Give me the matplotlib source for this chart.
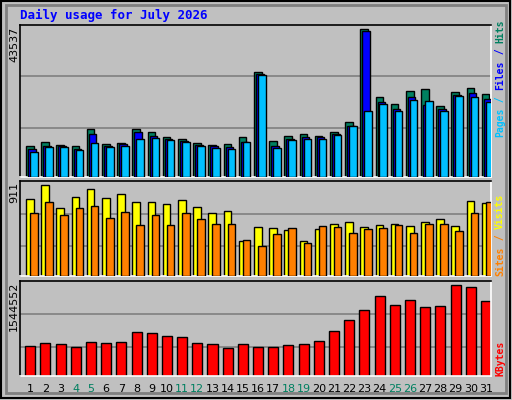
import matplotlib
matplotlib.use("Agg")
import matplotlib.pyplot as plt
import numpy as np
from matplotlib.patches import Rectangle

days = list(range(1, 32))
weekend = [4, 5, 11, 12, 18, 19, 25, 26]
hits = [9062, 10244, 9358, 9062, 14086, 9653, 9949, 14086, 13199, 11722, 11131, 9949, 9358, 9653, 11722, 30930, 10540, 12017, 12608, 12017, 13199, 16154, 43537, 23542, 21473, 25315, 25906, 20882, 25019, 26202, 24428]
files = [8176, 9062, 9062, 8176, 12608, 9062, 9653, 13199, 12017, 11131, 10540, 9358, 9062, 8767, 10244, 30339, 9062, 11131, 11722, 11722, 12608, 14972, 43045, 22064, 19996, 23542, 21178, 19996, 24133, 24724, 22951]
pages = [7289, 8767, 8767, 7880, 9949, 8767, 9062, 11131, 11426, 10835, 10244, 9062, 8471, 8176, 10244, 30043, 8471, 10835, 11131, 11131, 12313, 14972, 19405, 21473, 19405, 22656, 22360, 19405, 23837, 23542, 22064]
visits = [764, 911, 675, 784, 864, 774, 814, 735, 735, 715, 755, 685, 626, 646, 354, 484, 474, 454, 354, 464, 523, 543, 484, 504, 523, 494, 543, 573, 494, 745, 725]
sites = [626, 735, 606, 675, 695, 583, 642, 504, 606, 504, 626, 573, 523, 523, 364, 298, 414, 474, 334, 494, 484, 424, 464, 474, 504, 424, 514, 523, 444, 626, 735]
kbytes = [509171, 560093, 543119, 492197, 577067, 560093, 577067, 746806, 729832, 678910, 661936, 560093, 543119, 475223, 543119, 492197, 492197, 526145, 543119, 594041, 763780, 950494, 1120233, 1357868, 1205103, 1289972, 1171155, 1188129, 1544552, 1510604, 1272998]

BG = "#c0c0c0"
fig = plt.figure(figsize=(5.12, 4.0), dpi=100, facecolor=BG)
W, H = 512, 400

def add_ax(y0, y1):
    ax = fig.add_axes([20 / W, 1 - y1 / H, 471 / W, (y1 - y0) / H], facecolor=BG)
    ax.set_xlim(0.33, 31.33)
    for s in ["top", "left"]:
        ax.spines[s].set_color("black")
    for s in ["bottom", "right"]:
        ax.spines[s].set_color("white")
    for s in ax.spines.values():
        s.set_linewidth(1.2)
    ax.set_xticks([]); ax.set_yticks([])
    return ax

x = np.array(days, dtype=float)

def grid(ax, fracs, ymax):
    for f in fracs:
        ax.axhline(f * ymax, color="#808080", lw=1.2, zorder=0)

ax1 = add_ax(25, 177)
m1 = 43537 * 455 / 442
ax1.set_ylim(0, m1)
grid(ax1, [0.325, 0.662], m1)
bw = 0.5
ax1.bar(x - 0.27, hits, bw, align="edge", color="#008060", edgecolor="black", lw=1, zorder=2)
ax1.bar(x - 0.14, files, bw, align="edge", color="#0000ff", edgecolor="black", lw=1, zorder=3)
ax1.bar(x - 0.01, pages, bw, align="edge", color="#00c0ff", edgecolor="black", lw=1, zorder=4)

ax2 = add_ax(181, 276)
m2 = 911 * 286 / 275
ax2.set_ylim(0, m2)
grid(ax2, [0.315, 0.657], m2)
ax2.bar(x - 0.27, visits, bw, align="edge", color="#ffff00", edgecolor="black", lw=1, zorder=2)
ax2.bar(x - 0.01, sites, bw, align="edge", color="#ff8000", edgecolor="black", lw=1, zorder=3)

ax3 = add_ax(281, 376)
m3 = 1544552 * 284 / 273
ax3.set_ylim(0, m3)
grid(ax3, [0.306, 0.655], m3)
ax3.bar(x - 0.33, kbytes, 0.66, align="edge", color="#ff0000", edgecolor="black", lw=1, zorder=2)

for d in days:
    xf = (20 + (d - 0.33) / 31 * 471) / W
    fig.text(xf, 1 - 389 / H, str(d), ha="center", va="center", fontsize=8,
             family="DejaVu Sans", color="#008060" if d in weekend else "black")

def ylab(y, s):
    fig.text(14 / W, 1 - y / H, s, rotation=90, ha="center", va="top", fontsize=8, family="DejaVu Sans")
ylab(27, "43537")
ylab(182, "911")
ylab(282, "1544552")

def rlegend(ybottom, parts):
    y = ybottom
    for txt, col in parts:
        fig.text(500 / W, 1 - y / H, txt, rotation=90, ha="center", va="bottom",
                 fontsize=7, family="DejaVu Sans Mono", fontweight="bold", color=col)
        y -= len(txt) * 5.9
rlegend(137, [("Pages", "#00c0ff"), (" / ", "#00c0ff"), ("Files", "#0000ff"), (" / ", "#0000ff"), ("Hits", "#008060")])
rlegend(276, [("Sites", "#ff8000"), (" / ", "#ff8000"), ("Visits", "#ffff00")])
rlegend(376, [("KBytes", "#ff0000")])

fig.text(20 / W, 1 - 15 / H, "Daily usage for July 2026", ha="left", va="center",
         fontsize=9, family="DejaVu Sans Mono", fontweight="bold", color="#0000ff")

fig.patches.append(Rectangle((0.002, 0.004), 0.994, 0.994, transform=fig.transFigure,
                             fill=False, edgecolor="black", lw=1.5))
fig.patches.append(Rectangle((6 / W, 7 / H), 1 - 12 / W, 1 - 12 / H, transform=fig.transFigure,
                             fill=False, edgecolor="#808080", lw=2))

fig.savefig("out.png", dpi=100, facecolor=BG)
